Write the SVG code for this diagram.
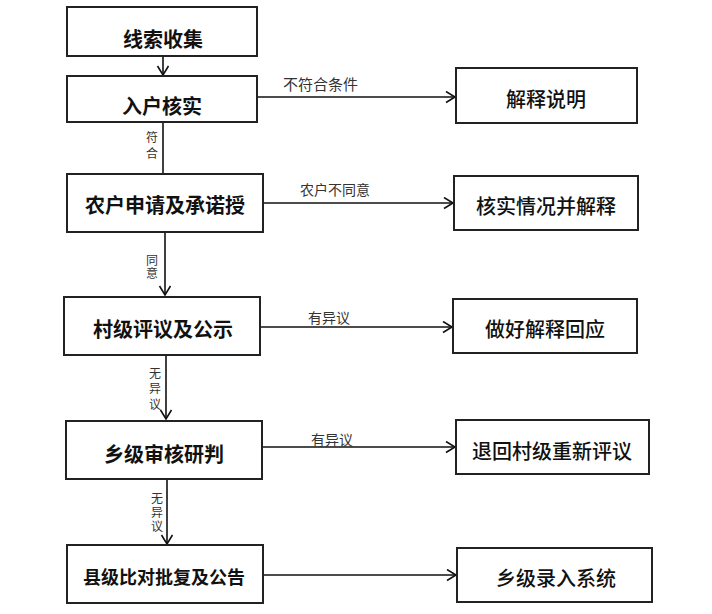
<svg xmlns="http://www.w3.org/2000/svg" width="712" height="614" viewBox="0 0 712 614">
<defs>
<marker id="arr" markerUnits="userSpaceOnUse" markerWidth="14" markerHeight="14" refX="10" refY="6" orient="auto">
<path d="M1,0.5 L10,6 L1,11.5" fill="none" stroke="#111" stroke-width="1.6"/>
</marker>
<style>
.box{fill:#fff;stroke:#222;stroke-width:2}
.lt{font-family:"Noto Sans CJK SC","Noto Sans CJK JP",sans-serif;font-size:20px;font-weight:700;fill:#111;text-anchor:middle}
.rt{font-family:"Noto Sans CJK SC","Noto Sans CJK JP",sans-serif;font-size:20px;font-weight:500;fill:#111;text-anchor:middle}
.el{font-family:"Noto Sans CJK SC","Noto Sans CJK JP",sans-serif;font-size:14px;fill:#333}
.vl{font-family:"Noto Sans CJK SC","Noto Sans CJK JP",sans-serif;font-size:12px;fill:#333;writing-mode:vertical-rl;text-anchor:start}
.ln{fill:none;stroke:#111;stroke-width:1.6}
</style>
</defs>
<rect width="712" height="614" fill="#fff"/>
<g id="connectors">
<line class="ln" x1="163" y1="56" x2="163" y2="75" marker-end="url(#arr)"/>
<line class="ln" x1="163" y1="122" x2="163" y2="174"/>
<line class="ln" x1="165" y1="232" x2="165" y2="295" marker-end="url(#arr)"/>
<line class="ln" x1="166" y1="355" x2="166" y2="419" marker-end="url(#arr)"/>
<line class="ln" x1="167" y1="479" x2="167" y2="544" marker-end="url(#arr)"/>
<line class="ln" x1="257" y1="97" x2="455" y2="97" marker-end="url(#arr)"/>
<line class="ln" x1="263" y1="203" x2="453" y2="203" marker-end="url(#arr)"/>
<line class="ln" x1="260" y1="327" x2="452" y2="327" marker-end="url(#arr)"/>
<line class="ln" x1="262" y1="447" x2="455" y2="447" marker-end="url(#arr)"/>
<line class="ln" x1="263" y1="575" x2="456" y2="575" marker-end="url(#arr)"/>
<text class="el" x="283" y="90" style="font-size:15px">不符合条件</text>
<text class="el" x="300" y="195">农户不同意</text>
<text class="el" x="308" y="323">有异议</text>
<text class="el" x="311" y="445">有异议</text>
<text class="vl" x="152" y="131" letter-spacing="4">符合</text>
<text class="vl" x="152" y="254" letter-spacing="1">同意</text>
<text class="vl" x="155" y="367" letter-spacing="3.5">无异议</text>
<text class="vl" x="157" y="492" letter-spacing="2">无异议</text>
</g>
<g id="n1"><rect class="box" x="67" y="7" width="190" height="49"/><text class="lt" x="163" y="47">线索收集</text></g>
<g id="n2"><rect class="box" x="67" y="76" width="190" height="46"/><text class="lt" x="162" y="114">入户核实</text></g>
<g id="n3"><rect class="box" x="67" y="174" width="196" height="58"/><text class="lt" x="165" y="213">农户申请及承诺授</text></g>
<g id="n4"><rect class="box" x="64" y="297" width="196" height="58"/><text class="lt" x="163" y="337">村级评议及公示</text></g>
<g id="n5"><rect class="box" x="66" y="421" width="196" height="58"/><text class="lt" x="164" y="462">乡级审核研判</text></g>
<g id="n6"><rect class="box" x="67" y="545" width="196" height="58"/><text class="lt" x="164" y="584" style="font-size:18px">县级比对批复及公告</text></g>
<g id="r1"><rect class="box" x="456" y="68" width="181" height="55"/><text class="rt" x="546" y="107">解释说明</text></g>
<g id="r2"><rect class="box" x="454" y="176" width="184" height="54"/><text class="rt" x="546" y="214">核实情况并解释</text></g>
<g id="r3"><rect class="box" x="453" y="299" width="184" height="54"/><text class="rt" x="545" y="337">做好解释回应</text></g>
<g id="r4"><rect class="box" x="456" y="420" width="193" height="54"/><text class="rt" x="552" y="459">退回村级重新评议</text></g>
<g id="r5"><rect class="box" x="457" y="548" width="195" height="54"/><text class="rt" x="556" y="586">乡级录入系统</text></g>
</svg>
